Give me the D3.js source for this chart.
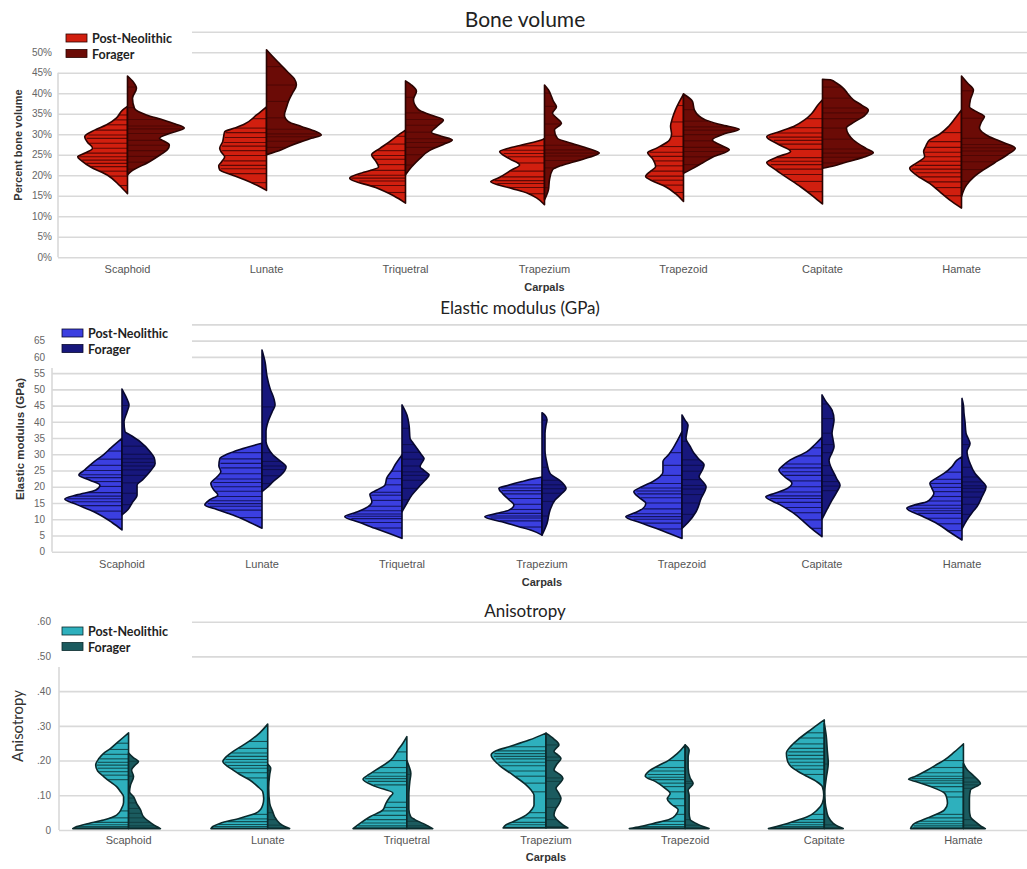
<!DOCTYPE html>
<html>
<head>
<meta charset="utf-8">
<script src="https://cdn.jsdelivr.net/npm/d3@7"></script>
<style>
  body { margin: 0; background: #fff; }
  svg { display: block; }
</style>
</head>
<body>
<script>
// size of the picture
const width = 1027;
const height = 869;

const carpals = ["Scaphoid", "Lunate", "Triquetral", "Trapezium", "Trapezoid", "Capitate", "Hamate"];
const groups = ["Post-Neolithic", "Forager"];

// ---- Bone volume (%) : density outlines as [value, density], one per carpal
const bvGrid = [0, 5, 10, 15, 20, 25, 30, 35, 40, 45, 50, 55];
const bvPost = [
  [[15.5,0],[17.5,8],[20,20],[22,37],[23.5,46],[24.5,50],[25.5,42],[26.6,35],[28,40],[29.4,43],[31,33],[32.3,21],[34,11],[35.9,5],[36.8,0]],
  [[16.3,0],[17.5,9],[18.9,22],[20,34],[21.3,47],[22.3,48],[23.3,45],[24.5,42],[25.5,45],[26.6,47],[28.2,44],[29.5,43],[30.6,42],[31.5,32],[32.5,22],[34.7,10],[36.7,0]],
  [[13.2,0],[15,12],[17,30],[19.3,56],[20.5,45],[22,27],[23.5,30],[25,34],[26.5,26],[28,17],[29.5,9],[31,0]],
  [[12.8,0],[14.5,8],[15.6,17],[16.8,33],[18.4,54],[19.5,45],[21.3,33],[22.5,25],[24,35],[25.8,45],[26.6,36],[27.4,23],[28.6,3],[29,0]],
  [[13.6,0],[15.5,8],[17.2,18],[18.5,30],[19.7,38],[21,33],[22.1,28],[24,31],[25.5,36],[26.5,28],[28.6,14],[30,12],[32,13],[34,11],[36,8],[38,4],[39.8,0]],
  [[13,0],[15,10],[17.2,22],[19.5,36],[21.5,48],[23.1,56],[24.5,45],[25.8,32],[27.5,44],[29.4,56],[30.5,45],[31.9,29],[33.5,18],[35,11],[37,5],[38.4,0]],
  [[12,0],[14,12],[16,22],[18,32],[20,45],[21.7,52],[23,45],[24.6,37],[25.8,38],[27,36],[28.6,32],[30,22],[31.9,13],[34,6],[35.9,0]]
];
const bvForager = [
  [[20.1,0],[21,4],[23.3,22],[25,33],[26.2,40],[27.4,42],[28.3,37],[29,32],[30.2,42],[31.5,57],[32.5,48],[33.5,36],[34.7,19],[36.3,7],[38.8,5],[41.2,9],[42.7,6],[44.2,0]],
  [[25,0],[26.2,15],[27.2,24],[28.2,35],[29,45],[29.8,55],[31,46],[31.9,35],[33.1,22],[34.7,18],[36.5,20],[38,22],[40,26],[42,30],[43.5,28],[45,22],[47,14],[49,6],[50.6,0]],
  [[20.1,0],[22,6],[24,14],[26,24],[27.5,38],[28.6,47],[29.5,36],[30.5,26],[32,32],[33.5,38],[34.8,24],[36,13],[38.4,8],[40.5,11],[42,6],[43,0]],
  [[14,0],[16.5,4],[18.9,5],[21.3,8],[22.3,16],[23.3,30],[24.4,45],[25.4,55],[26.5,44],[27.8,27],[29,13],[31,10],[32.7,17],[34,12],[35.1,8],[36.7,12],[38,9],[39.2,7],[40.8,4],[42,0]],
  [[20.5,0],[21.5,8],[23,19],[24.5,30],[26.2,46],[27.5,36],[28.6,29],[30,40],[31.2,56],[32.3,38],[33.5,22],[35.9,11],[38,9],[39.8,0]],
  [[21.7,0],[22.3,12],[23,21],[24.3,40],[25.5,51],[26.5,44],[28.6,31],[30,26],[31.5,24],[33,32],[34.5,42],[35.9,46],[37,40],[38.4,31],[40,25],[41.2,21],[42.5,14],[43.3,8],[43.4,0]],
  [[14.8,0],[17.6,5],[19.5,12],[21.3,22],[23,33],[25,46],[26.6,54],[28,42],[29.4,28],[31.5,18],[33,20],[34.3,23],[35.5,15],[36.7,8],[38.5,9],[40.8,12],[42.5,6],[44.2,0]]
];
// single observations (the stick lines)
const bvPostObs = [
  [17.5,19.8,21.0,22.1,22.9,23.7,24.5,25.4,26.6,27.8,29.0,29.8,31.0,32.3,33.5,34.7],
  [18.2,20.4,21.6,22.4,23.5,24.8,26.0,27.1,28.0,29.2,30.4,31.5,33.8],
  [15.8,17.5,18.6,19.3,20.0,21.2,22.6,23.9,24.8,26.0,27.6,29.5],
  [15.5,17.0,18.0,18.7,19.6,21.0,23.0,24.5,25.3,26.1,27.2],
  [15.8,17.6,18.8,19.8,21.0,22.3,23.5,24.6,25.6,27.0,29.5,33.0,37.0],
  [16.0,18.5,20.2,21.5,22.6,23.4,24.3,26.3,27.6,28.5,29.3,30.3,31.6,33.8],
  [15.0,17.0,18.4,19.6,20.6,21.5,22.4,23.4,24.5,25.6,26.8,28.2,30.4]
];
const bvForagerObs = [
  [21.5,23.2,24.6,26.0,27.3,28.5,30.2,31.3,32.0,33.6,36.5,41.5],
  [26.8,28.3,29.4,30.1,31.2,34.0,38.0,42.0,46.5],
  [22.5,25.0,26.8,28.0,28.9,30.5,32.2,33.6,35.2,39.0],
  [17.0,21.8,23.6,24.7,25.4,26.2,27.3,29.8,32.5,36.8,40.0],
  [22.6,24.5,25.8,26.8,28.4,29.9,31.0,31.8,33.2,36.0],
  [23.0,24.4,25.4,26.4,28.8,31.5,33.8,35.2,36.4,38.8,41.5],
  [18.5,21.4,23.3,24.8,25.9,26.7,27.5,29.0,33.9,40.6]
];

// ---- Elastic modulus (GPa)
const emGrid = [0, 5, 10, 15, 20, 25, 30, 35, 40, 45, 50, 55, 60, 65, 70];
const emPost = [
  [[6.7,0],[9,10],[12.3,28],[14.5,45],[16.2,57],[17.5,45],[19,26],[20.5,22],[22,32],[23.6,43],[25,38],[27.7,28],[30,18],[32,11],[34.9,0]],
  [[7.2,0],[9,12],[11.3,29],[13,45],[14.4,57],[16,52],[17.5,44],[19,48],[21,51],[23,45],[24.6,41],[26.5,43],[28.7,42],[30,35],[31.5,22],[33.4,0]],
  [[4.1,0],[5.5,12],[7.2,27],[9,42],[10.8,57],[12,47],[13.3,37],[15.4,30],[17.7,32],[19,25],[20.5,17],[22.8,15],[25,10],[26.7,7],[29.8,0]],
  [[5.1,0],[6.5,10],[7.7,23],[9.2,40],[10.8,57],[11.8,45],[12.8,33],[14.4,28],[16,33],[17.8,39],[19.5,43],[20.5,33],[21.6,20],[22.5,8],[23,0]],
  [[4.1,0],[5.5,12],[7.2,26],[9,42],[10.8,56],[12,47],[13.3,39],[14.9,36],[16.5,42],[18.5,48],[20,40],[21.6,29],[24.6,19],[27.7,19],[30,13],[31.8,9],[34,5],[37,0]],
  [[4.6,0],[7,10],[9.2,18],[11.8,28],[14.5,42],[16.9,56],[18,47],[19,38],[21.1,30],[23,37],[25.2,43],[26.5,39],[28.2,32],[30.8,15],[33,7],[35.2,0]],
  [[3.6,0],[6,12],[8.7,25],[11,40],[13.4,55],[14.5,46],[15.4,35],[16.8,30],[18,28],[19.5,30],[21.1,32],[22.6,26],[24.1,18],[26.2,10],[28.2,5],[29.3,0]]
];
const emForager = [
  [[11.3,0],[13,6],[15,10],[17.5,15],[20.5,15],[22,20],[23.6,25],[25.5,30],[27.2,33],[29,32],[30.8,28],[33.9,18],[36,8],[37,3],[40,2],[43,5],[45.2,7],[47,5],[48.3,3],[50.1,0]],
  [[18.5,0],[20,6],[21.6,11],[23.6,19],[26.2,24],[28,18],[29.8,11],[32,6],[33.9,4],[37,4],[40,6],[43,10],[45.2,13],[47,12],[50.3,8],[54,5],[58.5,3],[62.1,0]],
  [[12.3,0],[15,5],[17.5,10],[20,17],[22,23],[23.6,27],[25,22],[26.2,18],[28,21],[28.7,22],[30,19],[31.8,15],[33.5,11],[34.9,8],[39,7],[42,5],[45.2,0]],
  [[5.1,0],[8.7,5],[12.8,8],[15.9,13],[18,20],[19.5,24],[21,21],[22.1,17],[24.1,8],[27.2,5],[31.3,3],[36.5,3],[39,4],[40.6,5],[42,3],[42.8,0]],
  [[7.2,0],[9,6],[12.3,14],[16.4,19],[20,24],[21.5,21],[23.1,17],[25,20],[26.7,22],[28.5,17],[30.3,12],[32.5,8],[34.9,4],[37,5],[39,6],[40.5,3],[42.1,0]],
  [[10,0],[13,5],[15.9,10],[18.5,15],[20.5,18],[22.3,15],[24.1,12],[26,9],[28.2,7],[30.5,10],[32.3,12],[34.5,11],[36.5,10],[38.5,11],[40.6,12],[43.6,10],[46.7,3],[48.3,0]],
  [[7,0],[9.8,5],[12,10],[13.9,15],[17,20],[20,24],[22,19],[24.1,13],[27.2,8],[30.8,5],[33.3,8],[35,6],[36.5,4],[40,3],[42.6,2],[45,1.5],[47.2,0]]
];
const emPostObs = [
  [10.0,12.5,14.2,15.4,16.3,17.1,18.2,20.1,21.6,22.8,23.7,25.0,26.6,28.5,31.0],
  [10.5,12.8,14.0,14.8,15.7,17.0,18.6,20.0,21.3,22.4,24.0,25.8,27.2,28.6,30.5],
  [7.3,9.0,10.2,10.9,11.6,12.6,14.0,15.8,17.4,18.3,20.6,22.5,24.8],
  [7.6,9.5,10.4,11.0,11.8,13.0,14.6,16.4,17.8,18.8,19.6,20.6],
  [7.0,8.8,10.0,10.8,11.7,13.2,15.0,16.6,17.8,18.7,19.6,21.0,23.5,26.6,30.5],
  [7.2,9.8,12.0,13.6,15.2,16.4,17.2,18.4,20.0,21.8,23.5,24.6,25.8,27.0,29.5,32.0],
  [6.5,8.6,10.3,11.8,12.6,13.4,14.3,15.6,17.0,18.5,19.8,21.0,22.3,24.5]
];
const emForagerObs = [
  [14.5,18.0,21.2,23.5,25.2,26.4,27.5,28.6,30.0,32.5,45.0],
  [21.0,23.4,25.3,26.4,27.8,30.5,44.6],
  [16.0,19.5,22.0,23.5,24.6,26.4,28.5,30.6,33.0,38.0],
  [11.0,15.5,18.0,19.4,20.6,22.0,26.0,40.5],
  [11.5,15.0,17.6,19.3,20.4,22.2,24.8,26.6,28.3,34.0],
  [18.8,20.2,21.6,23.5,26.5,30.5,33.0,36.5,41.0,45.5],
  [11.5,14.6,16.8,18.4,19.5,20.3,21.5,23.0,26.0,33.0]
];

// ---- Anisotropy
const anGrid = [0, 0.1, 0.2, 0.3, 0.4, 0.5, 0.6];
const anPost = [
  [[0.004,56],[0.01,52],[0.019,40],[0.029,25],[0.043,12],[0.062,7],[0.08,5],[0.096,5],[0.11,8],[0.125,12],[0.14,19],[0.154,25],[0.17,31],[0.187,33],[0.205,30],[0.221,25],[0.235,18],[0.25,12],[0.265,6],[0.28,0]],
  [[0.004,57],[0.01,55],[0.019,48],[0.034,28],[0.048,12],[0.06,7],[0.072,5],[0.09,4],[0.11,5],[0.125,10],[0.144,18],[0.16,28],[0.173,35],[0.185,41],[0.197,45],[0.21,42],[0.226,35],[0.24,27],[0.259,17],[0.28,8],[0.305,0]],
  [[0.004,54],[0.019,47],[0.038,37],[0.058,24],[0.077,21],[0.095,17],[0.106,14],[0.125,31],[0.146,44],[0.16,38],[0.173,31],[0.202,16],[0.23,9],[0.25,4],[0.269,0]],
  [[0.006,43],[0.015,40],[0.024,33],[0.043,20],[0.06,14],[0.072,12],[0.1,12],[0.115,15],[0.13,20],[0.158,33],[0.187,47],[0.216,55],[0.228,50],[0.24,37],[0.259,17],[0.279,0]],
  [[0.004,56],[0.01,45],[0.019,32],[0.03,16],[0.045,9],[0.058,7],[0.075,14],[0.09,18],[0.105,15],[0.12,20],[0.14,30],[0.155,40],[0.17,36],[0.185,27],[0.2,17],[0.22,8],[0.245,0]],
  [[0.004,56],[0.01,48],[0.019,37],[0.03,25],[0.038,17],[0.058,7],[0.077,2],[0.1,0.5],[0.125,2],[0.14,8],[0.154,17],[0.17,27],[0.182,33],[0.2,37],[0.221,38],[0.24,34],[0.259,27],[0.288,14],[0.305,6],[0.317,0]],
  [[0.004,53],[0.01,52],[0.019,49],[0.03,40],[0.038,33],[0.058,19],[0.077,16],[0.095,17],[0.106,19],[0.125,33],[0.14,48],[0.146,55],[0.155,48],[0.173,36],[0.19,26],[0.202,19],[0.225,9],[0.248,0]]
];
const anForager = [
  [[0.004,32],[0.01,28],[0.019,23],[0.038,15],[0.058,12],[0.077,8],[0.096,5],[0.11,1],[0.13,2],[0.154,5],[0.173,3],[0.188,7],[0.197,10],[0.208,5],[0.222,0]],
  [[0.004,22],[0.01,17],[0.019,12],[0.038,7],[0.053,5],[0.077,2],[0.12,1],[0.16,2],[0.178,3],[0.19,0]],
  [[0.004,26],[0.01,22],[0.019,16],[0.03,8],[0.038,4],[0.06,2],[0.1,2],[0.14,3],[0.163,4],[0.185,2],[0.2,0]],
  [[0.006,22],[0.015,17],[0.024,13],[0.043,8],[0.062,10],[0.075,13],[0.091,15],[0.105,13],[0.12,10],[0.135,14],[0.149,17],[0.162,13],[0.173,8],[0.19,11],[0.206,15],[0.216,12],[0.226,8],[0.235,10],[0.245,13],[0.262,8],[0.279,0]],
  [[0.004,24],[0.01,18],[0.019,11],[0.03,5],[0.05,4],[0.08,4],[0.1,4],[0.115,3],[0.134,8],[0.15,5],[0.18,3],[0.21,3],[0.23,4],[0.245,0]],
  [[0.004,19],[0.01,14],[0.019,9],[0.038,4],[0.06,2],[0.077,1],[0.11,0.5],[0.15,2],[0.192,4],[0.23,3],[0.27,2],[0.307,0]],
  [[0.004,22],[0.01,18],[0.019,14],[0.038,7],[0.058,6],[0.09,6],[0.115,7],[0.134,17],[0.154,11],[0.173,4],[0.192,0]]
];
const anPostObs = [
  [0.006,0.01,0.015,0.022,0.035,0.055,0.145,0.158,0.168,0.178,0.187,0.195,0.205,0.218,0.232,0.25],
  [0.005,0.01,0.016,0.024,0.032,0.045,0.15,0.165,0.178,0.186,0.195,0.203,0.212,0.222,0.235,0.255],
  [0.006,0.012,0.02,0.03,0.042,0.055,0.065,0.08,0.13,0.14,0.148,0.155,0.165,0.18,0.2,0.225],
  [0.008,0.015,0.022,0.035,0.05,0.11,0.135,0.155,0.17,0.185,0.195,0.205,0.212,0.22,0.228,0.24],
  [0.006,0.01,0.016,0.025,0.045,0.07,0.09,0.11,0.125,0.135,0.145,0.152,0.16,0.17,0.18,0.2],
  [0.006,0.01,0.015,0.022,0.03,0.045,0.16,0.175,0.185,0.195,0.205,0.215,0.225,0.235,0.248,0.265,0.28],
  [0.006,0.012,0.018,0.025,0.035,0.045,0.095,0.11,0.125,0.135,0.142,0.148,0.155,0.165,0.18,0.2]
];
const anForagerObs = [
  [0.006,0.012,0.022,0.035,0.048,0.062,0.078,0.092,0.155,0.198],
  [0.006,0.014,0.03,0.05,0.172],
  [0.006,0.012,0.025,0.16],
  [0.01,0.03,0.065,0.09,0.14,0.15,0.2,0.21,0.245],
  [0.006,0.014,0.03,0.134,0.14],
  [0.006,0.015,0.19],
  [0.006,0.014,0.03,0.12,0.13,0.138,0.15]
];

// panel layout + styling (built from the arrays above)
const panels = [
  {
    title: "Bone volume", titleX: 525, titleY: 27, titleSize: 21,
    yLabel: "Percent bone volume", yLabelFont: "bold 11px 'Liberation Sans', Arial", yLabelX: 22, yLabelY: 145,
    grid: bvGrid, fmt: d => d === 55 ? "" : d + "%", domain: [0, 55], yRange: [257.3, 31.7],
    xRange: [58, 1031], tickPad: 6, axisTop: 72.8, legendX: 66, legendY: 34, legendBox: [24, 66],
    catY: 273, carpalsY: 291,
    post: bvPost, forager: bvForager, postObs: bvPostObs, foragerObs: bvForagerObs,
    colors: { post: "#d11f0f", forager: "#6b0b06", line: "#2b0402", stick: "#4a0603" }
  },
  {
    title: "Elastic modulus (GPa)", titleX: 520, titleY: 313.5, titleSize: 17,
    yLabel: "Elastic modulus (GPa)", yLabelFont: "bold 11.5px 'Liberation Sans', Arial", yLabelX: 24, yLabelY: 439,
    grid: emGrid, fmt: d => d === 70 ? "" : d, domain: [0, 70], yRange: [551.7, 324.4],
    xRange: [52, 1032], tickPad: 7, axisTop: 368, legendX: 62, legendY: 329, legendBox: [318, 364],
    catY: 568, carpalsY: 586,
    post: emPost, forager: emForager, postObs: emPostObs, foragerObs: emForagerObs,
    colors: { post: "#3b3fe0", forager: "#17177c", line: "#08082e", stick: "#0d0d4a" }
  },
  {
    title: "Anisotropy", titleX: 525, titleY: 616.5, titleSize: 17,
    yLabel: "Anisotropy", yLabelFont: "15px Lato", yLabelX: 23, yLabelY: 726,
    grid: anGrid, fmt: d => d === 0 ? "0" : d3.format(".2f")(d).replace(/^0/, ""), domain: [0, 0.6], yRange: [830, 621.7],
    xRange: [59, 1033], tickPad: 8, axisTop: 667, legendX: 62, legendY: 627, legendBox: [615, 663],
    catY: 844, carpalsY: 861,
    post: anPost, forager: anForager, postObs: anPostObs, foragerObs: anForagerObs,
    colors: { post: "#2eb0bd", forager: "#1b5b5f", line: "#0b2a2c", stick: "#0f3d40" }
  }
];

var svg = d3.select("body").append("svg")
  .attr("width", width)
  .attr("height", height);

// linear read of the outline at value v (for stick length)
function densityAt(profile, v) {
  for (var i = 0; i < profile.length - 1; i++) {
    var a = profile[i], b = profile[i + 1];
    if (v >= a[0] && v <= b[0]) {
      return a[1] + (b[1] - a[1]) * (v - a[0]) / (b[0] - a[0]);
    }
  }
  return 0;
}

function drawPanel(p) {
  var g = svg.append("g");

  var y = d3.scaleLinear().domain(p.domain).range(p.yRange);
  var x = d3.scaleBand().domain(carpals).range(p.xRange);
  var w = d3.scaleLinear().domain([0, 60]).range([0, x.bandwidth() * 0.43]);
  var left = p.xRange[0];

  // gridlines + tick labels
  var axis = g.append("g")
    .attr("transform", "translate(" + left + ",0)")
    .call(d3.axisLeft(y).tickValues(p.grid).tickFormat(p.fmt)
      .tickSize(-(width - left)).tickPadding(p.tickPad));
  axis.select(".domain").remove();
  axis.selectAll("line").attr("stroke", "#d9d9d9").attr("stroke-width", 1.6);
  axis.selectAll("text")
    .style("font", "10px 'Liberation Sans', Arial")
    .attr("fill", "#666");

  // left axis line
  g.append("line")
    .attr("x1", left).attr("x2", left)
    .attr("y1", p.axisTop).attr("y2", y(0))
    .attr("stroke", "#d9d9d9").attr("stroke-width", 1.6);

  // title
  g.append("text")
    .attr("x", p.titleX).attr("y", p.titleY)
    .attr("text-anchor", "middle")
    .style("font", p.titleSize + "px Lato")
    .attr("fill", "#222")
    .text(p.title);

  // y label
  g.append("text")
    .attr("transform", "translate(" + p.yLabelX + "," + p.yLabelY + ") rotate(-90)")
    .attr("text-anchor", "middle")
    .style("font", p.yLabelFont)
    .attr("fill", "#333")
    .text(p.yLabel);

  // category labels
  g.selectAll(".cat")
    .data(carpals)
    .enter().append("text")
    .attr("x", d => x(d) + x.bandwidth() / 2)
    .attr("y", p.catY)
    .attr("text-anchor", "middle")
    .style("font", "11px 'Liberation Sans', Arial")
    .attr("fill", "#555")
    .text(d => d);

  g.append("text")
    .attr("x", x("Trapezium") + x.bandwidth() / 2)
    .attr("y", p.carpalsY)
    .attr("text-anchor", "middle")
    .style("font", "bold 11px 'Liberation Sans', Arial")
    .attr("fill", "#333")
    .text("Carpals");

  // violins: left half = Post-Neolithic, right half = Forager
  carpals.forEach(function (c, i) {
    var cx = x(c) + x.bandwidth() / 2;
    var halves = [
      { prof: p.post[i], obs: p.postObs[i], side: -1, fill: p.colors.post },
      { prof: p.forager[i], obs: p.foragerObs[i], side: 1, fill: p.colors.forager }
    ];
    halves.forEach(function (h) {
      var area = d3.area()
        .y(d => y(d[0]))
        .x0(cx)
        .x1(d => cx + h.side * w(d[1]))
        .curve(d3.curveMonotoneY);

      g.append("path")
        .attr("d", area(h.prof))
        .attr("fill", h.fill);

      g.selectAll(null)
        .data(h.obs)
        .enter().append("line")
        .attr("x1", cx)
        .attr("x2", d => cx + h.side * w(densityAt(h.prof, d)) * 0.97)
        .attr("y1", d => y(d))
        .attr("y2", d => y(d))
        .attr("stroke", p.colors.stick)
        .attr("stroke-opacity", 0.85)
        .attr("stroke-width", 1.1);

      g.append("path")
        .attr("d", area(h.prof))
        .attr("fill", "none")
        .attr("stroke", p.colors.line)
        .attr("stroke-width", 1.6)
        .attr("stroke-linejoin", "round");
    });
  });

  // legend on a white box
  g.append("rect")
    .attr("x", left - 3).attr("y", p.legendBox[0])
    .attr("width", 195 - left).attr("height", p.legendBox[1] - p.legendBox[0])
    .attr("fill", "#fff");

  var lg = g.selectAll(".lg")
    .data(groups)
    .enter().append("g")
    .attr("transform", (d, k) => "translate(" + p.legendX + "," + (p.legendY + k * 15.5) + ")");
  lg.append("rect")
    .attr("width", 21).attr("height", 8)
    .attr("fill", (d, k) => k === 0 ? p.colors.post : p.colors.forager)
    .attr("stroke", p.colors.line).attr("stroke-width", 0.8);
  lg.append("text")
    .attr("x", 26).attr("y", 9)
    .style("font", "bold 12.5px Lato")
    .attr("fill", "#222")
    .text(d => d);
}

panels.forEach(drawPanel);
</script>
</body>
</html>
